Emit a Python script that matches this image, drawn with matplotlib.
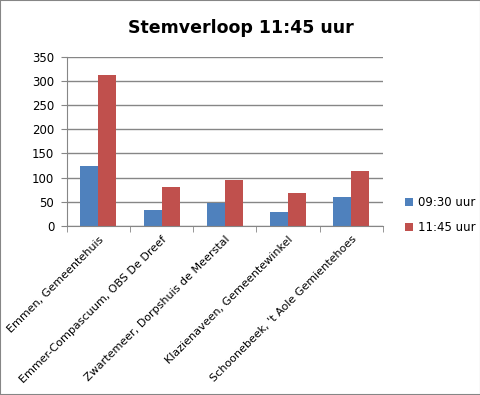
import matplotlib.pyplot as plt
import numpy as np
from matplotlib.patches import Rectangle

locations = [
    "Emmen, Gemeentehuis",
    "Emmer-Compascuum, OBS De Dreef",
    "Zwartemeer, Dorpshuis de Meerstal",
    "Klazienaveen, Gemeentewinkel",
    "Schoonebeek, 't Aole Gemientehoes",
]
votes_0930 = [124, 33, 48, 29, 60]
votes_1145 = [312, 81, 95, 68, 114]
series_labels = ["09:30 uur", "11:45 uur"]

plt.rcParams["font.family"] = ["DejaVu Sans"]

fig = plt.figure(figsize=(4.81, 3.95), dpi=100)
fig.patches.append(Rectangle((0, 0), 1, 1, transform=fig.transFigure,
                             fill=False, edgecolor="#868686", linewidth=1.5))
ax = fig.add_axes([0.139, 0.428, 0.657, 0.428])

x = np.arange(len(locations))
w = 0.285
ax.bar(x - w / 2, votes_0930, w, color="#4f81bd", label=series_labels[0], zorder=2)
ax.bar(x + w / 2, votes_1145, w, color="#c0504d", label=series_labels[1], zorder=2)

ax.set_xlim(-0.5, len(locations) - 0.5)
ax.set_ylim(0, 350)
ax.set_yticks(range(0, 351, 50))
ax.yaxis.grid(True, color="#868686", linewidth=1, zorder=0)
ax.set_axisbelow(True)

ax.set_xticks(x)
ax.set_xticklabels(locations, rotation=45, ha="right", rotation_mode="anchor", fontsize=8)
ax.set_xticks(np.arange(-0.5, len(locations), 1), minor=True)
ax.tick_params(axis="x", which="major", length=0, pad=6)
ax.tick_params(axis="x", which="minor", length=4, color="#868686")
ax.tick_params(axis="y", length=4, color="#868686", labelsize=8.5, pad=5)

for pos in ["right", "top"]:
    ax.spines[pos].set_visible(False)
for pos in ["left", "bottom"]:
    ax.spines[pos].set_color("#868686")

fig.text(0.5, 0.93, "Stemverloop 11:45 uur", ha="center", va="center",
         fontsize=12.5, fontweight="bold")
fig.legend(loc="center left", bbox_to_anchor=(0.82, 0.455), frameon=False,
           fontsize=8.5, handlelength=0.7, handleheight=0.7, labelspacing=1.0,
           handletextpad=0.4)

fig.savefig("out.png", dpi=100)
